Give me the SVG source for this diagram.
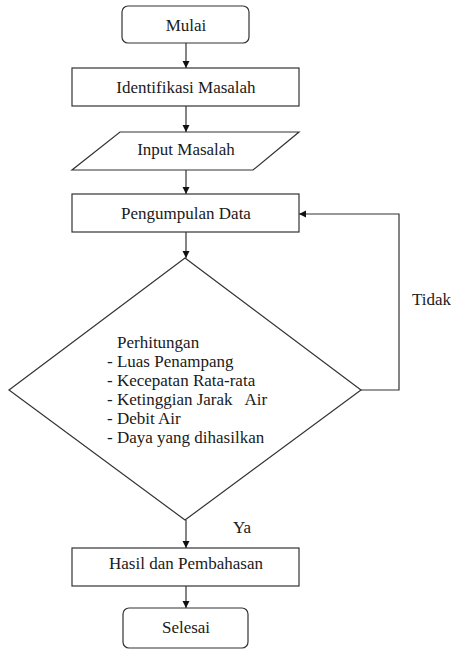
<svg xmlns="http://www.w3.org/2000/svg" width="451" height="650" viewBox="0 0 451 650">
<defs>
<marker id="ah" markerWidth="8" markerHeight="8" refX="7" refY="4" orient="auto" markerUnits="userSpaceOnUse">
<path d="M0,0.5 L7,4 L0,7.5 Z" fill="#111"/>
</marker>
<style>
.s{fill:#fff;stroke:#333;stroke-width:1.2}
text{font-family:'Liberation Serif','Times New Roman','DejaVu Serif',serif;font-size:17px;fill:#1a1a1a}
.c{text-anchor:middle}
.e{fill:none;stroke:#333;stroke-width:1.2;marker-end:url(#ah)}
</style>
</defs>
<rect width="451" height="650" fill="#fff"/>
<g id="connectors">
<line class="e" x1="186" y1="43" x2="186" y2="68"/>
<line class="e" x1="186" y1="106" x2="186" y2="132"/>
<line class="e" x1="186" y1="170" x2="186" y2="194"/>
<line class="e" x1="186" y1="232" x2="186" y2="258"/>
<polyline class="e" points="361,390 399,390 399,214 299,214"/>
<line class="e" x1="186" y1="520" x2="186" y2="548"/>
<line class="e" x1="186" y1="586" x2="186" y2="608"/>
</g>
<g font-family="Liberation Serif, serif">
<g id="mulai">
<rect class="s" x="122" y="6" width="127" height="37" rx="6"/>
<text class="c" x="186" y="31">Mulai</text>
</g>
<g id="identifikasi">
<rect class="s" x="72" y="68" width="227" height="38"/>
<text class="c" x="186" y="93">Identifikasi Masalah</text>
</g>
<g id="input">
<polygon class="s" points="120,132 299,132 253,170 72,170"/>
<text class="c" x="186" y="155">Input Masalah</text>
</g>
<g id="pengumpulan">
<rect class="s" x="72" y="194" width="227" height="38"/>
<text class="c" x="186" y="219">Pengumpulan Data</text>
</g>
<g id="perhitungan">
<polygon class="s" points="185,258 361,390 185,520 9,390"/>
<text x="117" y="348">Perhitungan</text>
<text x="107" y="367">- Luas Penampang</text>
<text x="107" y="386">- Kecepatan Rata-rata</text>
<text x="107" y="405" xml:space="preserve">- Ketinggian Jarak   Air</text>
<text x="107" y="424">- Debit Air</text>
<text x="107" y="443">- Daya yang dihasilkan</text>
</g>
<g id="hasil">
<rect class="s" x="72" y="548" width="227" height="38"/>
<text class="c" x="186" y="569">Hasil dan Pembahasan</text>
</g>
<g id="selesai">
<rect class="s" x="123" y="608" width="125" height="40" rx="6"/>
<text class="c" x="186" y="633">Selesai</text>
</g>
<g id="labels">
<text x="412" y="305">Tidak</text>
<text x="233" y="533">Ya</text>
</g>
</g>
</svg>
